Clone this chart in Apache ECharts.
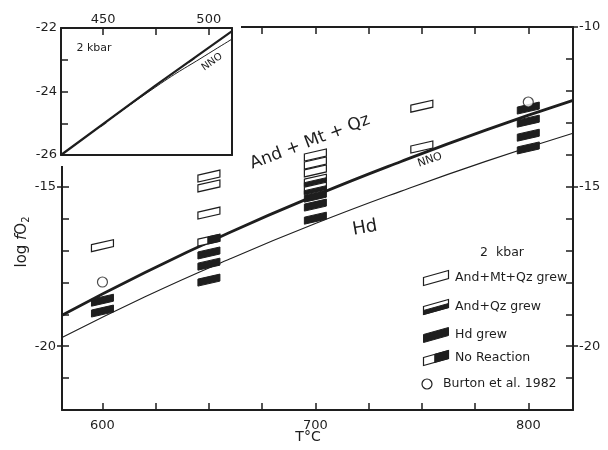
<!DOCTYPE html>
<html><head><meta charset="utf-8">
<script src="https://cdn.jsdelivr.net/npm/echarts@6/dist/echarts.min.js"></script>
<style>html,body{margin:0;padding:0;background:#fff}#c{width:608px;height:450px}</style>
</head><body><div id="c"></div>
<script>
// ---------------- data ----------------
const mainTicksX = [600,625,650,675,700,725,750,775,800];
const mainLabelsX = [600,700,800];
const mainTicksY = [-21,-20,-19,-18,-17,-16,-15,-14,-13,-12,-11];
const leftLabelsY = [-20,-15];
const rightLabelsY = [-20,-15,-10];

const boundaryT = [581,620,660,700,740,780,821];
const boundaryLogfO2 = [-19.03,-17.69,-16.43,-15.28,-14.22,-13.23,-12.30];
const nnoT = [581,620,660,700,740,780,821];
const nnoLogfO2 = [-19.73,-18.45,-17.26,-16.16,-15.15,-14.21,-13.33];

const andMtQzGrewT   = [600,650,650,650,700,700,700,750,750];
const andMtQzGrewLog = [-16.85,-14.67,-14.98,-15.83,-14.01,-14.26,-14.51,-12.48,-13.76];
const andQzGrewT     = [700,700];
const andQzGrewLog   = [-14.80,-15.05];
const hdGrewT        = [600,600,650,650,650,700,700,700,800,800,800,800];
const hdGrewLog      = [-18.56,-18.90,-17.08,-17.43,-17.93,-15.30,-15.58,-15.99,-12.54,-12.95,-13.39,-13.79];
const noReactionT    = [650];
const noReactionLog  = [-16.68];
const burtonT        = [600,800];
const burtonLog      = [-17.99,-12.35];

const insetTicksX = [450,475,500];
const insetLabelsX = [450,500];
const insetTicksY = [-25,-24,-23];
const insetLabelsY = [-26,-24,-22];
const insetBoundaryT = [430,475,511];
const insetBoundaryLog = [-26,-23.8,-22.1];
const insetNnoT = [430,475,500,511];
const insetNnoLog = [-26,-23.85,-22.8,-22.35];
const insetMarkT = [450,492];
const insetMarkLog = [-25.04,-23.01];

const legendNames = ['And+Mt+Qz grew','And+Qz grew','Hd grew','No Reaction','Burton et al. 1982'];

// ---------------- drawing ----------------
const font = 'DejaVu Sans';
const ink = '#1e1e1e';
const zip = (a,b) => a.map((v,i)=>[v,b[i]]);

function para(cx,cy,w,h,s){
  return [[cx-w/2,cy-h/2+s/2],[cx+w/2,cy-h/2-s/2],[cx+w/2,cy+h/2-s/2],[cx-w/2,cy+h/2+s/2]];
}
function markerShapes(kind,cx,cy,w,h,s,z){
  const out = [];
  const o = para(cx,cy,w,h,s);
  if (kind==='hd'){
    out.push({type:'polygon',z:z,shape:{points:o},style:{fill:ink,stroke:ink,lineWidth:1}});
    return out;
  }
  out.push({type:'polygon',z:z,shape:{points:o},style:{fill:'#fff',stroke:ink,lineWidth:1.2}});
  if (kind==='andqz'){
    const f = 0.5;
    const pts = [[cx-w/2,cy-h/2+s/2+f*h],[cx+w/2,cy-h/2-s/2+f*h],[cx+w/2,cy+h/2-s/2],[cx-w/2,cy+h/2+s/2]];
    out.push({type:'polygon',z:z,shape:{points:pts},style:{fill:ink,stroke:ink,lineWidth:1}});
  }
  if (kind==='nr'){
    const t = 0.45;
    const x0 = cx-w/2+t*w;
    const pts = [[x0,cy-h/2+s/2-t*s],[cx+w/2,cy-h/2-s/2],[cx+w/2,cy+h/2-s/2],[x0,cy+h/2+s/2-t*s]];
    out.push({type:'polygon',z:z,shape:{points:pts},style:{fill:ink,stroke:ink,lineWidth:1}});
  }
  return out;
}
function customSeries(kind,T,L){
  return {
    type:'custom', xAxisIndex:0, yAxisIndex:0, z:4,
    data: zip(T,L), encode:{x:0,y:1},
    renderItem:(params,api)=>{
      const p = api.coord([api.value(0),api.value(1)]);
      return {type:'group',children:markerShapes(kind,p[0],p[1],22,7,5)};
    }
  };
}
const baseLine = {show:true,lineStyle:{color:ink,width:2}};
function tx(text,x,y,size,opts){
  opts = opts||{};
  return {type:'text',x:x,y:y,z:20,rotation:(opts.rot||0)*Math.PI/180,
    style:{text:text,fill:ink,fontSize:size,fontFamily:font,fontWeight:opts.weight||'normal',
      align:opts.align||'center',verticalAlign:'middle',textAlign:opts.align||'center',textVerticalAlign:'middle'}};
}

const legendY = [278,307,335,358,384];
const legendKinds = ['open','andqz','hd','nr'];
const graphics = [
  {type:'rect',z:5,shape:{x:48,y:12,width:193,height:154},style:{fill:'#fff'}}
];
legendKinds.forEach((k,i)=>{
  markerShapes(k,436,legendY[i],25,8,7,20).forEach(e=>graphics.push(e));
});
graphics.push({type:'circle',z:20,shape:{cx:427,cy:legendY[4],r:5},style:{fill:'#fff',stroke:ink,lineWidth:1.2}});
legendNames.forEach((n,i)=>graphics.push(tx(n,i===4?443:455,legendY[i],12.5,{align:'left'})));
graphics.push(tx('2  kbar',502,253,12.5));
graphics.push(tx('And + Mt + Qz',310,142,17,{rot:21}));
graphics.push(tx('NNO',430,160,11,{rot:19}));
graphics.push(tx('Hd',365,228,18,{rot:10}));
graphics.push(tx('2 kbar',94,48,11));
graphics.push(tx('NNO',212,62,10,{rot:35}));
graphics.push(tx('T°C',308,437,14));
graphics.push({type:'text',x:22,y:242,z:20,rotation:Math.PI/2,
  style:{text:'{a|log }{b|f}{a|O}{c|2}',align:'center',verticalAlign:'middle',textAlign:'center',textVerticalAlign:'middle',
    rich:{a:{fontSize:15,fontFamily:font,fill:ink,color:ink},
          b:{fontSize:15,fontFamily:font,fontStyle:'italic',fill:ink,color:ink},
          c:{fontSize:10,fontFamily:font,fill:ink,color:ink,padding:[8,0,0,0]}}}});

const lbl = (vals,margin)=>({customValues:vals,margin:margin,color:ink,fontSize:13,fontFamily:font});
const option = {
  animation:false,
  backgroundColor:'#fff',
  grid:[{left:62,top:27,width:511,height:383},{left:61,top:28,width:171,height:127}],
  xAxis:[
    {gridIndex:0,type:'value',position:'bottom',min:581,max:821,axisLine:baseLine,
      axisTick:{inside:true,length:7,customValues:mainTicksX,lineStyle:{color:ink,width:1.5}},
      axisLabel:lbl(mainLabelsX,9),splitLine:{show:false}},
    {gridIndex:0,type:'value',position:'top',min:581,max:821,axisLine:baseLine,
      axisTick:{inside:true,length:7,customValues:mainTicksX,lineStyle:{color:ink,width:1.5}},
      axisLabel:{show:false},splitLine:{show:false}},
    {gridIndex:1,type:'value',position:'top',min:430,max:511,axisLine:baseLine,z:10,
      axisTick:{inside:true,length:7,customValues:insetTicksX,lineStyle:{color:ink,width:1.5}},
      axisLabel:lbl(insetLabelsX,2),splitLine:{show:false}},
    {gridIndex:1,type:'value',position:'bottom',min:430,max:511,axisLine:baseLine,z:10,
      axisTick:{show:false},axisLabel:{show:false},splitLine:{show:false}}
  ],
  yAxis:[
    {gridIndex:0,type:'value',position:'left',min:-22,max:-10,interval:1,axisLine:baseLine,
      axisTick:{inside:true,length:7,customValues:mainTicksY,lineStyle:{color:ink,width:1.5}},
      axisLabel:lbl(leftLabelsY,6),splitLine:{show:false}},
    {gridIndex:0,type:'value',position:'right',min:-22,max:-10,interval:1,axisLine:baseLine,
      axisTick:{inside:true,length:7,customValues:mainTicksY,lineStyle:{color:ink,width:1.5}},
      axisLabel:lbl(rightLabelsY,6),splitLine:{show:false}},
    {gridIndex:0,type:'value',position:'left',min:-22,max:-10,interval:1,axisLine:{show:false},
      axisTick:{inside:false,length:5,customValues:leftLabelsY,lineStyle:{color:ink,width:1.5}},
      axisLabel:{show:false},splitLine:{show:false}},
    {gridIndex:0,type:'value',position:'right',min:-22,max:-10,interval:1,axisLine:{show:false},
      axisTick:{inside:false,length:5,customValues:rightLabelsY,lineStyle:{color:ink,width:1.5}},
      axisLabel:{show:false},splitLine:{show:false}},
    {gridIndex:1,type:'value',position:'left',min:-26,max:-22,interval:1,axisLine:baseLine,z:10,
      axisTick:{inside:true,length:7,customValues:insetTicksY,lineStyle:{color:ink,width:1.5}},
      axisLabel:lbl(insetLabelsY,4),splitLine:{show:false}},
    {gridIndex:1,type:'value',position:'right',min:-26,max:-22,interval:1,axisLine:baseLine,z:10,
      axisTick:{show:false},axisLabel:{show:false},splitLine:{show:false}}
  ],
  series:[
    {type:'line',xAxisIndex:0,yAxisIndex:0,data:zip(boundaryT,boundaryLogfO2),smooth:true,symbol:'none',
      lineStyle:{color:ink,width:2.8},z:3},
    {type:'line',xAxisIndex:0,yAxisIndex:0,data:zip(nnoT,nnoLogfO2),smooth:true,symbol:'none',
      lineStyle:{color:ink,width:1.1},z:3},
    customSeries('open',andMtQzGrewT,andMtQzGrewLog),
    customSeries('andqz',andQzGrewT,andQzGrewLog),
    customSeries('hd',hdGrewT,hdGrewLog),
    customSeries('nr',noReactionT,noReactionLog),
    {type:'scatter',xAxisIndex:0,yAxisIndex:0,data:zip(burtonT,burtonLog),symbol:'circle',symbolSize:10,z:4,
      itemStyle:{color:'#fff',borderColor:ink,borderWidth:1.2}},
    {type:'line',xAxisIndex:2,yAxisIndex:4,data:zip(insetBoundaryT,insetBoundaryLog),symbol:'none',
      lineStyle:{color:ink,width:2.2},z:11},
    {type:'line',xAxisIndex:2,yAxisIndex:4,data:zip(insetNnoT,insetNnoLog),symbol:'none',smooth:true,
      lineStyle:{color:ink,width:1},z:11},
    {type:'scatter',xAxisIndex:2,yAxisIndex:4,data:zip(insetMarkT,insetMarkLog),symbol:'rect',symbolSize:[1.5,7],
      symbolRotate:-55,itemStyle:{color:ink},z:12}
  ],
  graphic:graphics
};
const chart = echarts.init(document.getElementById('c'),null,{renderer:'canvas'});
chart.setOption(option);
</script></body></html>
